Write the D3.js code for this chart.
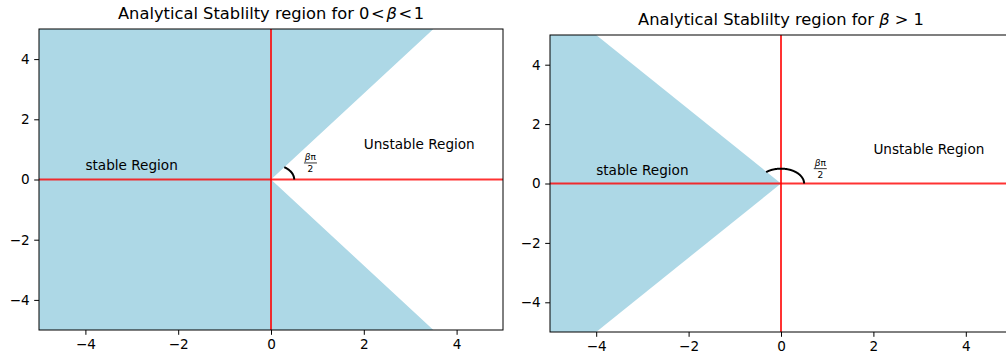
<!DOCTYPE html>
<html>
<head>
<meta charset="utf-8">
<script src="https://cdn.jsdelivr.net/npm/d3@7"></script>
<style>
  body { margin: 0; background: #fff; }
  text { font-family: "DejaVu Sans", sans-serif; fill: #000; }
</style>
</head>
<body>
<div id="chart"></div>
<script>
// data
const xTicks = [-4, -2, 0, 2, 4];
const yTicks = [-4, -2, 0, 2, 4];
const domainX = [-5, 5];
const domainY = [-5, 5];

// stable region corners (data coords)
const stableLeft = [[-5, -5], [-5, 5], [3.5, 5], [0, 0], [3.5, -5]];
const stableRight = [[-5, 5], [-4, 5], [0, 0], [-4, -5], [-5, -5]];

// angle arcs (degrees) and radius
const arcLeft = [0, 55];
const arcRight = [0, 130];
const arcRadius = 0.5;

const titles = ["Analytical Stablilty region for ", "Analytical Stablilty region for "];
const titleMath = [["0\u200a<\u200a", "β", "\u200a<\u200a1"], ["", "β", " > 1"]];
const stableLabel = {text: "stable Region", x: -4, y: 0.3};
const unstableLabel = {text: "Unstable Region", x: 2, y: 1};
const fracPosLeft = [0.85, 0.55];
const fracPosRight = [0.85, 0.5];

// dim
const W = 1006, H = 356;
const svg = d3.select("#chart").append("svg")
  .attr("width", W).attr("height", H);

const panels = [
  {left: 39, top: 29, w: 464, h: 301, poly: stableLeft, arc: arcLeft, frac: fracPosLeft},
  {left: 550, top: 35, w: 462, h: 297, poly: stableRight, arc: arcRight, frac: fracPosRight}
];

panels.forEach((p, i) => {
  const g = svg.append("g").attr("transform", `translate(${p.left},${p.top})`);
  const x = d3.scaleLinear().domain(domainX).range([0, p.w]);
  const y = d3.scaleLinear().domain(domainY).range([p.h, 0]);

  g.append("clipPath").attr("id", "clip" + i)
    .append("rect").attr("width", p.w).attr("height", p.h);
  const inner = g.append("g").attr("clip-path", `url(#clip${i})`);

  // stable region
  inner.append("path")
    .datum(p.poly)
    .attr("d", d3.line().x(d => x(d[0])).y(d => y(d[1])))
    .attr("fill", "#add8e6");

  // red axes lines
  inner.append("line")
    .attr("x1", x(domainX[0])).attr("x2", x(domainX[1]))
    .attr("y1", y(0)).attr("y2", y(0))
    .attr("stroke", "red").attr("stroke-opacity", 0.8).attr("stroke-width", 2);
  inner.append("line")
    .attr("x1", x(0)).attr("x2", x(0))
    .attr("y1", y(domainY[0])).attr("y2", y(domainY[1]))
    .attr("stroke", "red").attr("stroke-opacity", 0.8).attr("stroke-width", 2);

  // angle arc
  const angs = d3.range(p.arc[0], p.arc[1] + 0.5, 1);
  inner.append("path")
    .datum(angs)
    .attr("d", d3.line()
      .x(a => x(arcRadius * Math.cos(a * Math.PI / 180)))
      .y(a => y(arcRadius * Math.sin(a * Math.PI / 180))))
    .attr("fill", "none").attr("stroke", "#000").attr("stroke-width", 2);

  // fraction beta pi / 2
  const fx = x(p.frac[0]), fy = y(p.frac[1]);
  const fr = g.append("g").attr("transform", `translate(${fx},${fy})`);
  fr.append("text").attr("x", 0).attr("y", -2.5)
    .attr("text-anchor", "middle").style("font-size", "9px")
    .call(t => { t.append("tspan").style("font-style", "italic").text("β"); t.append("tspan").text("π"); });
  fr.append("line").attr("x1", -6.5).attr("x2", 6.5).attr("y1", 0).attr("y2", 0)
    .attr("stroke", "#000").attr("stroke-width", 0.8);
  fr.append("text").attr("x", 0).attr("y", 9)
    .attr("text-anchor", "middle").style("font-size", "9px").text("2");

  // region labels
  g.append("text").attr("x", x(stableLabel.x)).attr("y", y(stableLabel.y))
    .style("font-size", "13.6px").text(stableLabel.text);
  g.append("text").attr("x", x(unstableLabel.x)).attr("y", y(unstableLabel.y))
    .style("font-size", "13.6px").text(unstableLabel.text);

  // axes
  const ax = g.append("g").attr("transform", `translate(0,${p.h})`)
    .call(d3.axisBottom(x).tickValues(xTicks).tickSizeOuter(0).tickSize(4.8).tickPadding(4.5));
  const ay = g.append("g")
    .call(d3.axisLeft(y).tickValues(yTicks).tickSizeOuter(0).tickSize(4.8).tickPadding(4.5));
  [ax, ay].forEach(a => {
    a.select(".domain").remove();
    a.selectAll("text").style("font-size", "13.6px").style("font-family", "DejaVu Sans");
    a.selectAll("line").attr("stroke", "#000").attr("stroke-width", 1);
  });

  // frame
  g.append("rect").attr("width", p.w).attr("height", p.h)
    .attr("fill", "none").attr("stroke", "#000").attr("stroke-width", 1);

  // title
  const tt = g.append("text").attr("x", p.w / 2).attr("y", -10.5)
    .attr("text-anchor", "middle").style("font-size", "16.3px");
  tt.append("tspan").text(titles[i] + titleMath[i][0]);
  tt.append("tspan").style("font-style", "italic").text(titleMath[i][1]);
  tt.append("tspan").text(titleMath[i][2]);
});
</script>
</body>
</html>
